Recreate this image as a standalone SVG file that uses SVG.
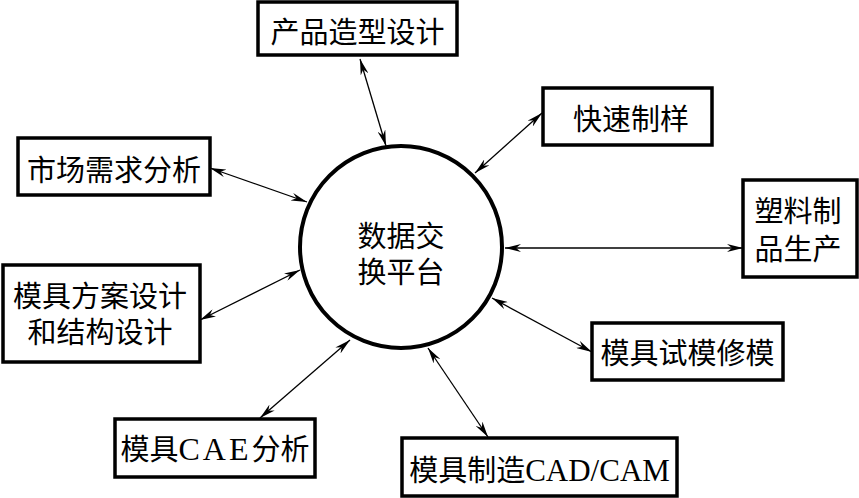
<svg xmlns="http://www.w3.org/2000/svg" width="859" height="498" viewBox="0 0 859 498">
<style>
.box{fill:#fff;stroke:#000;stroke-width:3.5}
.t{font-family:"Liberation Serif","Noto Sans CJK SC",serif;font-size:29px;fill:#000;text-anchor:middle}
.c{stroke:#000;stroke-width:1.3;fill:none;marker-start:url(#ah);marker-end:url(#ah)}
</style>
<defs>
<marker id="ah" viewBox="0 0 16 8" refX="16" refY="4" markerWidth="16" markerHeight="8" markerUnits="userSpaceOnUse" orient="auto-start-reverse">
<path d="M0,0 L16,4 L0,8 L5,4 Z" fill="#000"/>
</marker>
</defs>
<rect width="859" height="498" fill="#fff"/>
<g id="connectors">
<line class="c" x1="360" y1="59" x2="386" y2="146"/>
<line class="c" x1="542" y1="113" x2="475" y2="173"/>
<line class="c" x1="210" y1="168" x2="307" y2="202"/>
<line class="c" x1="200" y1="320" x2="300" y2="270"/>
<line class="c" x1="505" y1="248" x2="743" y2="248"/>
<line class="c" x1="492" y1="298" x2="592" y2="352"/>
<line class="c" x1="350" y1="340" x2="260" y2="418"/>
<line class="c" x1="428" y1="348" x2="488" y2="437"/>
</g>
<g id="hub">
<circle cx="401" cy="247" r="101" fill="#fff" stroke="#000" stroke-width="4"/>
<text class="t" x="401" y="247">数据交</text>
<text class="t" x="401" y="283">换平台</text>
</g>
<g id="n1">
<rect class="box" x="258" y="2" width="199" height="53"/>
<text class="t" x="357.5" y="43">产品造型设计</text>
</g>
<g id="n2">
<rect class="box" x="543" y="88" width="169" height="57"/>
<text class="t" x="631" y="130">快速制样</text>
</g>
<g id="n3">
<rect class="box" x="18" y="138" width="192" height="57"/>
<text class="t" x="114" y="181">市场需求分析</text>
</g>
<g id="n4">
<rect class="box" x="3" y="265" width="197" height="97"/>
<text class="t" x="100" y="307">模具方案设计</text>
<text class="t" x="100" y="343">和结构设计</text>
</g>
<g id="n5">
<rect class="box" x="743" y="180" width="114" height="97"/>
<text class="t" x="798" y="222">塑料制</text>
<text class="t" x="798" y="260">品生产</text>
</g>
<g id="n6">
<rect class="box" x="592" y="323" width="191" height="57"/>
<text class="t" x="687.5" y="364">模具试模修模</text>
</g>
<g id="n7">
<rect class="box" x="115" y="419" width="200" height="58"/>
<text class="t" x="215" y="460">模具<tspan font-size="32" letter-spacing="3">CAE</tspan>分析</text>
</g>
<g id="n8">
<rect class="box" x="402" y="438" width="275" height="58"/>
<text class="t" x="539.5" y="481">模具制造<tspan font-size="31">CAD/CAM</tspan></text>
</g>
</svg>
